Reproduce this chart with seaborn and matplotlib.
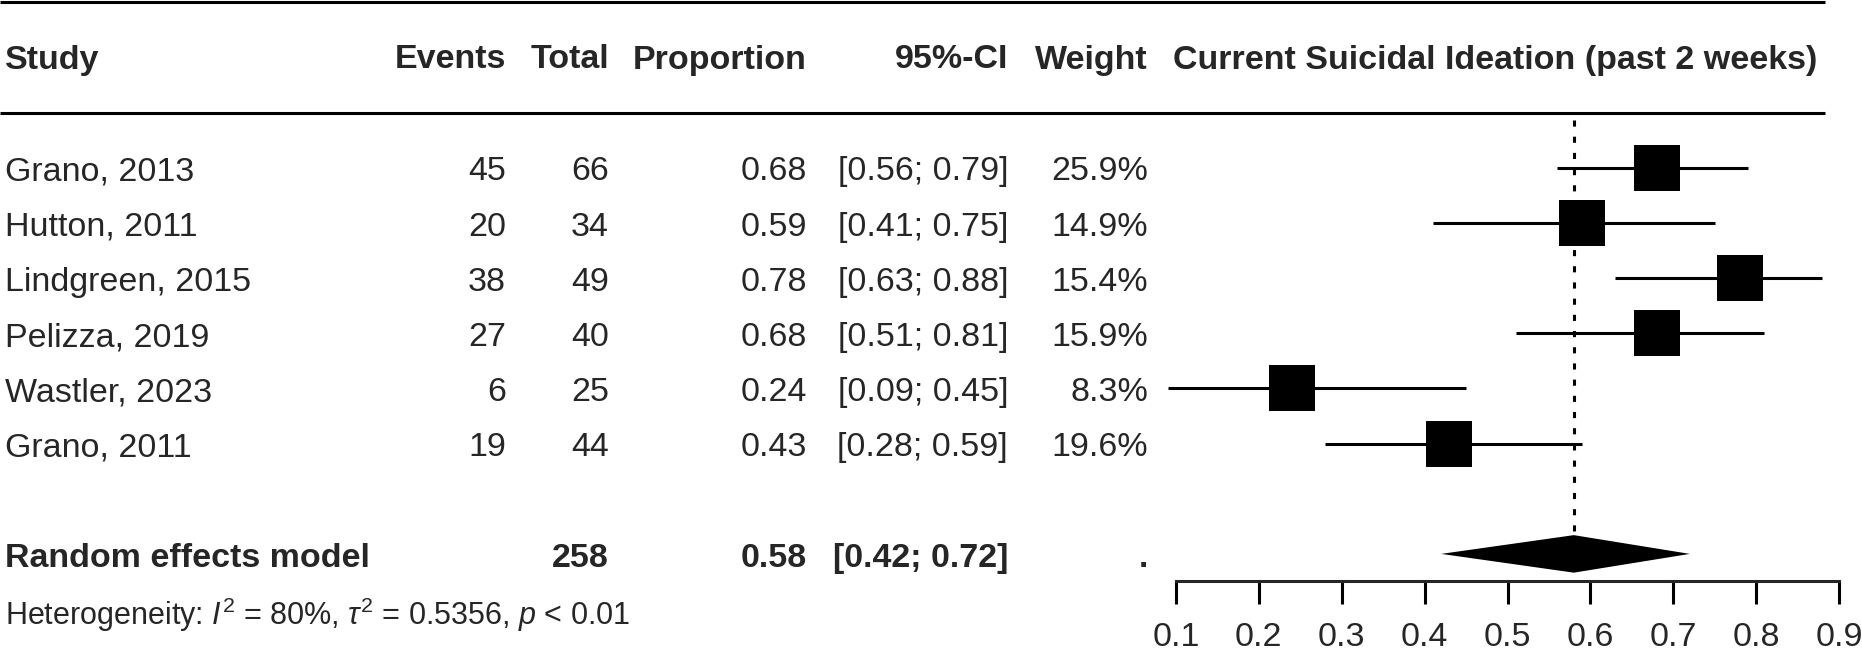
import numpy as np
import pandas as pd
import matplotlib
matplotlib.use("Agg")
import matplotlib.pyplot as plt
import seaborn as sns

studies = ["Grano, 2013", "Hutton, 2011", "Lindgreen, 2015", "Pelizza, 2019", "Wastler, 2023", "Grano, 2011"]
events = [45, 20, 38, 27, 6, 19]
totals = [66, 34, 49, 40, 25, 44]
props = [0.68, 0.59, 0.78, 0.68, 0.24, 0.43]
ci_low = [0.56, 0.41, 0.63, 0.51, 0.09, 0.28]
ci_high = [0.79, 0.75, 0.88, 0.81, 0.45, 0.59]
weights = [25.9, 14.9, 15.4, 15.9, 8.3, 19.6]

re_label = "Random effects model"
re_total = 258
re_est = 0.58
re_low = 0.42
re_high = 0.72
i2 = 80
tau2 = 0.5356
p_text = "< 0.01"

headers = ["Study", "Events", "Total", "Proportion", "95%-CI", "Weight"]
plot_title = "Current Suicidal Ideation (past 2 weeks)"
xticks = [0.1, 0.2, 0.3, 0.4, 0.5, 0.6, 0.7, 0.8, 0.9]

sns.set_style("white")
plt.rcParams["font.family"] = ["Liberation Sans", "DejaVu Sans"]
plt.rcParams["mathtext.fontset"] = "custom"
plt.rcParams["mathtext.rm"] = "Liberation Sans"
plt.rcParams["mathtext.it"] = "Liberation Sans:italic"

W, H = 1862, 658
row0, drow = 167.5, 55.2          # pixel centre of first row, row spacing
fs = 24.5

fig = plt.figure(figsize=(W / 100, H / 100), dpi=100)

# table axes covers the whole figure, x in pixels, y in row units
tab = fig.add_axes([0, 0, 1, 1])
tab.set_xlim(0, W)
tab.set_ylim((H - row0) / drow, -row0 / drow)
tab.axis("off")

# forest axes sits over the plot region, bottom edge = the x axis line
ax_left, ax_right, ax_bottom = 1176, 1839, 581
ax = fig.add_axes([ax_left / W, 1 - ax_bottom / H, (ax_right - ax_left) / W, ax_bottom / H])
ax.patch.set_visible(False)
ax.set_xlim(0.1, 0.9)
ax.set_ylim((ax_bottom - row0) / drow, -row0 / drow)

df = pd.DataFrame({"study": studies, "events": events, "total": totals,
                   "prop": props, "lo": ci_low, "hi": ci_high, "w": weights})
df["row"] = np.arange(len(df))
re_row = len(df) + 1

# rules
for yr in [(2 - row0) / drow, (113 - row0) / drow]:
    tab.hlines(yr, 0, 1825, color="black", lw=2.2)

# column headers
hy = (60 - row0) / drow
col_x = [5, 506, 609, 807, 1008, 1148]
tab.text(col_x[0], hy, headers[0], ha="left", va="center", fontsize=fs, fontweight="bold")
for x, h in zip(col_x[1:], headers[1:]):
    tab.text(x, hy, h, ha="right", va="center", fontsize=fs, fontweight="bold")
tab.text(1495, hy, plot_title, ha="center", va="center", fontsize=fs, fontweight="bold")

# study rows
for _, r in df.iterrows():
    y = r["row"] + 0.08
    tab.text(col_x[0], y, r["study"], ha="left", va="center", fontsize=fs)
    tab.text(col_x[1], y, f"{r['events']:d}", ha="right", va="center", fontsize=fs)
    tab.text(col_x[2], y, f"{r['total']:d}", ha="right", va="center", fontsize=fs)
    tab.text(col_x[3], y, f"{r['prop']:.2f}", ha="right", va="center", fontsize=fs)
    tab.text(col_x[4], y, f"[{r['lo']:.2f}; {r['hi']:.2f}]", ha="right", va="center", fontsize=fs)
    tab.text(col_x[5], y, f"{r['w']:.1f}%", ha="right", va="center", fontsize=fs)

# pooled row
ry = re_row + 0.08
tab.text(col_x[0], ry, re_label, ha="left", va="center", fontsize=fs, fontweight="bold")
tab.text(col_x[2], ry, f"{re_total}", ha="right", va="center", fontsize=fs, fontweight="bold")
tab.text(col_x[3], ry, f"{re_est:.2f}", ha="right", va="center", fontsize=fs, fontweight="bold")
tab.text(col_x[4], ry, f"[{re_low:.2f}; {re_high:.2f}]", ha="right", va="center", fontsize=fs, fontweight="bold")
tab.text(col_x[5], ry, ".", ha="right", va="center", fontsize=fs, fontweight="bold")

het = (r"Heterogeneity: $\mathit{I}^2$ = " + f"{i2}%, " + r"$\tau^2$ = " + f"{tau2}, "
       + r"$\mathit{p}$ " + p_text)
tab.text(col_x[0], (615 - row0) / drow, het, ha="left", va="center", fontsize=22)

# forest marks
ax.vlines(re_est, (120 - row0) / drow, re_row - 0.34, color="black", lw=2.2,
          linestyles=(0, (2, 3.3)), zorder=1)
ax.hlines(df["row"], df["lo"], df["hi"], color="black", lw=2.2, clip_on=False, zorder=2)
sns.scatterplot(data=df, x="prop", y="row", marker="s", s=32.5 ** 2, color="black",
                linewidth=0, ax=ax, legend=False, zorder=3, clip_on=False)
ax.fill([re_low, re_est, re_high, re_est], [re_row, re_row - 0.34, re_row, re_row + 0.34],
        color="black", lw=0, zorder=3)

sns.despine(ax=ax, left=True, top=True, right=True)
ax.spines["bottom"].set_linewidth(2.2)
ax.set_yticks([])
ax.set_xticks(xticks)
ax.set_xticklabels([f"{t:.1f}" for t in xticks])
ax.tick_params(axis="x", bottom=True, direction="out", length=16.5, width=2.2,
               color="black", labelsize=fs, pad=13)
ax.set_xlabel("")
ax.set_ylabel("")

fig.savefig("out.png", dpi=100)
